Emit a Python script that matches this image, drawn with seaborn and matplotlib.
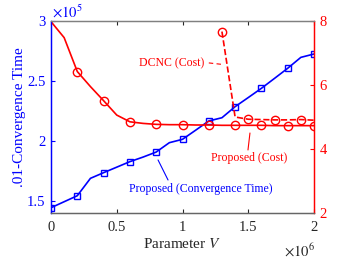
import numpy as np
import pandas as pd
import matplotlib
matplotlib.use("Agg")
import matplotlib.pyplot as plt
import seaborn as sns
from matplotlib.ticker import FuncFormatter

# ---- data ----
param_v = [0.0, 0.1e6, 0.2e6, 0.3e6, 0.4e6, 0.5e6, 0.6e6, 0.7e6, 0.8e6, 0.9e6, 1.0e6,
           1.1e6, 1.2e6, 1.3e6, 1.4e6, 1.5e6, 1.6e6, 1.7e6, 1.8e6, 1.9e6, 2.0e6]
conv_time = [1.444e5, 1.494e5, 1.544e5, 1.689e5, 1.736e5, 1.782e5, 1.828e5, 1.866e5, 1.908e5,
             1.986e5, 2.014e5, 2.090e5, 2.167e5, 2.194e5, 2.286e5, 2.362e5, 2.439e5, 2.522e5,
             2.606e5, 2.697e5, 2.725e5]
proposed_cost = [7.98, 7.48, 6.42, 5.95, 5.51, 5.06, 4.85, 4.80, 4.77, 4.76, 4.76,
                 4.75, 4.75, 4.74, 4.74, 4.74, 4.74, 4.73, 4.73, 4.73, 4.73]
dcnc_v = [1.3e6, 1.4e6, 1.5e6, 1.6e6, 1.7e6, 1.8e6, 1.9e6, 2.0e6]
dcnc_cost = [7.67, 5.00, 4.93, 4.92, 4.91, 4.91, 4.92, 4.90]

x_ticks = [0, 0.5e6, 1.0e6, 1.5e6, 2.0e6]
left_ticks = [1.5e5, 2.0e5, 2.5e5, 3.0e5]
right_ticks = [2, 4, 6, 8]

sns.set_theme(style="white")
plt.rcParams["font.family"] = ["Liberation Serif", "DejaVu Serif"]
plt.rcParams["mathtext.fontset"] = "stix"

BLUE = (0, 0, 1)
RED = (1, 0, 0)
GRAY = (0.15, 0.15, 0.15)

fig = plt.figure(figsize=(3.39, 2.63), dpi=100)
ax = fig.add_axes([51 / 339, 50 / 263, 263 / 339, 192 / 263])
ax2 = ax.twinx()

df_conv = pd.DataFrame({"V": param_v, "T": conv_time})
df_prop = pd.DataFrame({"V": param_v, "C": proposed_cost})
df_dcnc = pd.DataFrame({"V": dcnc_v, "C": dcnc_cost})

sns.lineplot(data=df_conv, x="V", y="T", ax=ax, color=BLUE, lw=1.2,
             marker="s", markersize=5, markerfacecolor="none", markeredgecolor=BLUE,
             markeredgewidth=1.0, markevery=2)
sns.lineplot(data=df_prop, x="V", y="C", ax=ax2, color=RED, lw=1.2,
             marker="o", markersize=6, markerfacecolor="none", markeredgecolor=RED,
             markeredgewidth=1.0, markevery=slice(2, None, 2))
sns.lineplot(data=df_dcnc, x="V", y="C", ax=ax2, color=RED, lw=1.2, linestyle="--",
             marker="o", markersize=6, markerfacecolor="none", markeredgecolor=RED,
             markeredgewidth=1.0, markevery=2)

ax.set_xlim(0, 2e6)
ax.set_ylim(1.4e5, 3.0e5)
ax2.set_ylim(2, 8)
ax.set_xticks(x_ticks)
ax.set_yticks(left_ticks)
ax2.set_yticks(right_ticks)
ax.xaxis.set_major_formatter(FuncFormatter(lambda v, p: "%g" % (v / 1e6)))
ax.yaxis.set_major_formatter(FuncFormatter(lambda v, p: "%g" % (v / 1e5)))
ax2.yaxis.set_major_formatter(FuncFormatter(lambda v, p: "%g" % v))

ax.tick_params(axis="x", direction="in", length=3, colors=GRAY, labelsize=10.5, pad=6,
               top=True, bottom=True, width=0.8)
ax.tick_params(axis="y", direction="in", length=3, colors=BLUE, labelsize=10.5, pad=4, width=0.8)
ax2.tick_params(axis="y", direction="in", length=3, colors=RED, labelsize=10.5, pad=4, width=0.8)
ax2.tick_params(axis="x", top=False)

for a in (ax, ax2):
    a.spines["top"].set_color((0.5, 0.5, 0.5))
    a.spines["bottom"].set_color((0.4, 0.4, 0.4))
    a.spines["left"].set_color(BLUE)
    a.spines["right"].set_color(RED)
    for s in a.spines.values():
        s.set_linewidth(0.9)
    a.grid(False)

ax.set_xlabel(r"Parameter $V$", fontsize=11, color=GRAY, labelpad=2)
ax.set_ylabel(".01-Convergence Time", fontsize=11, color=BLUE, labelpad=1)
ax2.set_ylabel("Cost", fontsize=11, color=RED, labelpad=17)

# offset texts
fig.text(52 / 339, 1 - 12 / 263, r"$\times10^5$", color=BLUE, fontsize=10.5,
         ha="left", va="center")
fig.text(284 / 339, 1 - 251 / 263, r"$\times10^6$", color=GRAY, fontsize=10.5,
         ha="left", va="center")

# annotations
ax2.text(0.92e6, 6.69, "DCNC (Cost)", color=RED, fontsize=8.5, ha="center", va="center")
ax2.plot([1.20e6, 1.31e6], [6.69, 6.64], color=RED, lw=0.8, linestyle=(0, (4, 3)))
ax2.text(1.51e6, 3.72, "Proposed (Cost)", color=RED, fontsize=8.5, ha="center", va="center")
ax2.plot([1.513e6, 1.498e6], [4.5, 3.97], color=RED, lw=0.8)
ax.text(1.14e6, 1.60e5, "Proposed (Convergence Time)", color=BLUE, fontsize=8.5,
        ha="center", va="center")
ax.plot([0.814e6, 0.89e6], [1.842e5, 1.675e5], color=BLUE, lw=0.8)

fig.savefig("out.png", dpi=100)
